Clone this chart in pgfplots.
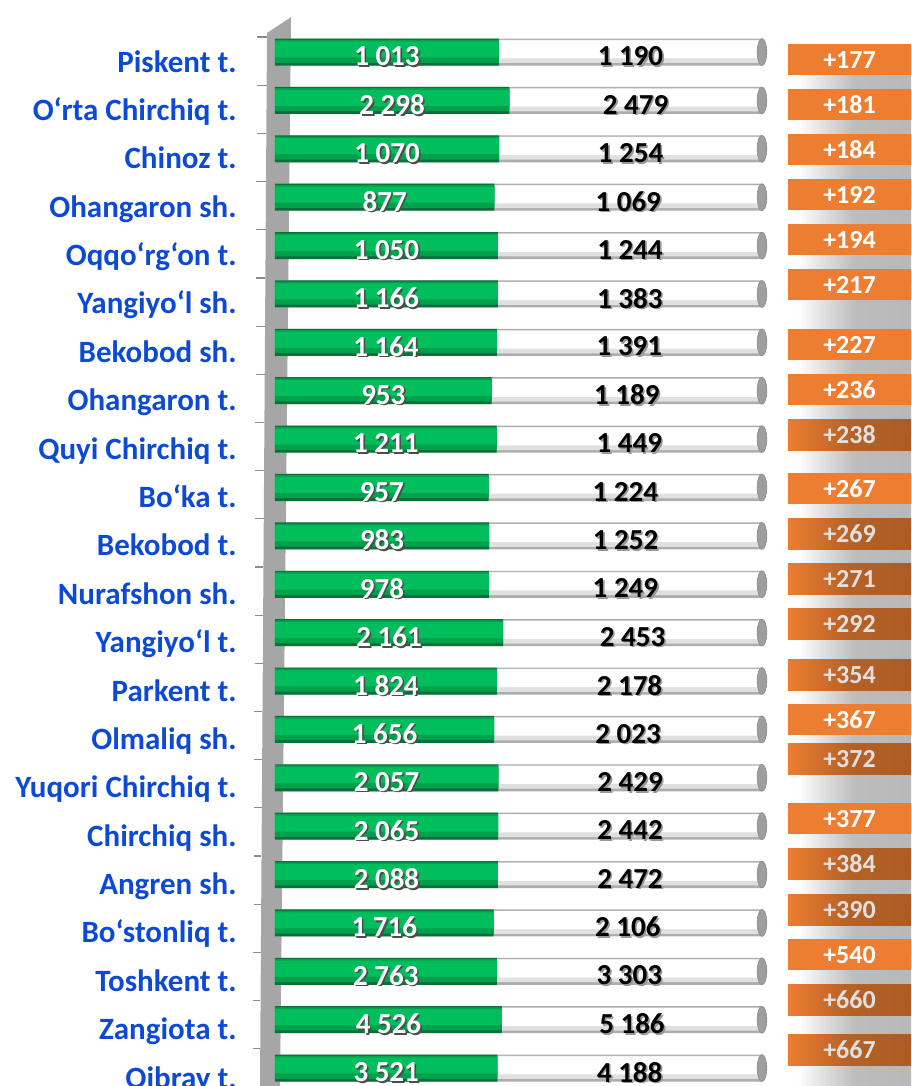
\documentclass[border=0pt]{standalone}
\usepackage{pgfplots}
\usepackage{pgfplotstable}
\pgfplotsset{compat=1.18}
\usepackage{fontspec}
\setmainfont{Carlito}

\definecolor{lblue}{RGB}{12,74,214}
\definecolor{ora}{RGB}{237,125,49}
\definecolor{brn}{RGB}{172,92,36}
\definecolor{gB}{RGB}{10,112,56}
\definecolor{gM2}{RGB}{0,160,76}
\definecolor{gM}{RGB}{0,190,92}

% text with a small drop shadow
\newcommand{\sh}[2]{\makebox[0pt][l]{\kern0.8pt\raisebox{-0.8pt}{\color{#2}#1}}#1}

% g = first value (green), w = second value (white), oy = row of the orange box, dk = darker box
\pgfplotstableread{
row g w oy dk
0 1013 1190 0.155 0
1 2298 2479 1.085 0
2 1070 1254 2.015 0
3 877 1069 2.945 0
4 1050 1244 3.876 0
5 1166 1383 4.806 0
6 1164 1391 6.046 0
7 953 1189 6.976 0
8 1211 1449 7.906 1
9 957 1224 9.022 0
10 983 1252 9.952 1
11 978 1249 10.883 1
12 2161 2453 11.813 1
13 1824 2178 12.867 1
14 1656 2023 13.797 0
15 2057 2429 14.603 1
16 2065 2442 15.843 0
17 2088 2472 16.773 1
18 1716 2106 17.724 1
19 2763 3303 18.654 0
20 4526 5186 19.584 1
21 3521 4188 20.618 1
}\data

\begin{document}
\begin{tikzpicture}
\begin{axis}[
    at={(0,0)}, anchor=south west,
    scale only axis,
    width=318pt, height=543pt,
    xmin=0, xmax=130.6,
    ymin=-1.075, ymax=21.372,
    y dir=reverse,
    clip=false,
    axis line style={draw=none},
    xtick=\empty,
    ytick={0,...,21},
    major tick length=0pt,
    yticklabels={Piskent t., O‘rta Chirchiq t., Chinoz t., Ohangaron sh., Oqqo‘rg‘on t.,
      Yangiyo‘l sh., Bekobod sh., Ohangaron t., Quyi Chirchiq t., Bo‘ka t., Bekobod t.,
      Nurafshon sh., Yangiyo‘l t., Parkent t., Olmaliq sh., Yuqori Chirchiq t.,
      Chirchiq sh., Angren sh., Bo‘stonliq t., Toshkent t., Zangiota t., Qibray t.},
    yticklabel style={font=\bfseries\fontsize{15.5}{18}\selectfont, text=lblue,
      anchor=base east, inner sep=0pt, xshift=-19pt, yshift=-10pt},
    /pgf/number format/.cd, 1000 sep={\ }, assume math mode=true,
]

% axis wall
\fill[black!35] (axis cs:-1.64,-0.393) -- (axis cs:3.29,-0.723) -- (axis cs:1.03,21.372)
  -- (axis cs:-3.08,21.372) -- cycle;
\pgfplotsinvokeforeach{0,...,21}{
  \draw[black!45, line width=0.6pt]
    (axis cs:{-3.7-0.038*#1},{#1-0.31-0.0043*#1}) -- (axis cs:{-1.64-0.07*#1},{#1-0.31-0.0043*#1});
}

% full (white) bar, drawn in layers for a rounded look
\addplot[xbar, bar width=13.5pt, bar shift=0pt, draw=none, fill=black!32]
  table[x expr=100, y=row]{\data};
\addplot[xbar, bar width=11.5pt, bar shift=0.3pt, draw=none, fill=black!12]
  table[x expr=100, y=row]{\data};
\addplot[xbar, bar width=9pt, bar shift=1.4pt, draw=none, fill=white]
  table[x expr=100, y=row]{\data};
\addplot[only marks, mark=*, mark size=6.75pt,
  mark options={xscale=0.36, fill=black!38, draw=black!45, line width=0.3pt}]
  table[x expr=100, y=row]{\data};
% green share
\addplot[xbar, bar width=13.5pt, bar shift=0pt, draw=none, fill=gB]
  table[x expr={100*\thisrow{g}/(\thisrow{g}+\thisrow{w})}, y=row]{\data};
\addplot[xbar, bar width=11.5pt, bar shift=0.4pt, draw=none, fill=gM2]
  table[x expr={100*\thisrow{g}/(\thisrow{g}+\thisrow{w})}, y=row]{\data};
\addplot[xbar, bar width=8pt, bar shift=1.3pt, draw=none, fill=gM]
  table[x expr={100*\thisrow{g}/(\thisrow{g}+\thisrow{w})}, y=row]{\data};

% value labels
\addplot[draw=none, mark=none, point meta=\thisrow{g},
  nodes near coords={\sh{\pgfmathprintnumber{\pgfplotspointmeta}}{black!70}},
  every node near coord/.append style={anchor=center, inner sep=0pt, yshift=-2.5pt,
    text=white, font=\bfseries\fontsize{14.5}{15}\selectfont}]
  table[x expr={50*\thisrow{g}/(\thisrow{g}+\thisrow{w})}, y=row]{\data};
\addplot[draw=none, mark=none, point meta=\thisrow{w},
  nodes near coords={\sh{\pgfmathprintnumber{\pgfplotspointmeta}}{black!40}},
  every node near coord/.append style={anchor=center, inner sep=0pt, yshift=-2.5pt,
    text=black, font=\bfseries\fontsize{14.5}{15}\selectfont}]
  table[x expr={50+50*\thisrow{g}/(\thisrow{g}+\thisrow{w})}, y=row]{\data};

% differences: shadows, then boxes
\addplot[draw=none, mark=none, point meta=\thisrow{w}-\thisrow{g},
  nodes near coords={\phantom{0}},
  every node near coord/.append style={anchor=north, inner sep=0pt, yshift=-7.75pt,
    minimum width=57pt, minimum height=14pt, left color=white, right color=black!28,
    middle color=black!26}]
  table[x expr=118.9, y=oy]{\data};
\addplot[draw=none, mark=none, point meta=\thisrow{w}-\thisrow{g},
  unbounded coords=discard,
  nodes near coords={+\pgfmathprintnumber{\pgfplotspointmeta}},
  every node near coord/.append style={anchor=center, inner sep=0pt, fill=ora,
    minimum width=61.5pt, minimum height=15.5pt, text=white,
    font=\bfseries\fontsize{13}{13}\selectfont}]
  table[x expr=117.97, y expr={\thisrow{oy}+100*\thisrow{dk}}]{\data};
\addplot[draw=none, mark=none, point meta=\thisrow{w}-\thisrow{g},
  nodes near coords={+\pgfmathprintnumber{\pgfplotspointmeta}},
  every node near coord/.append style={anchor=center, inner sep=0pt,
    left color=ora, right color=brn, middle color=brn!85!ora,
    minimum width=61.5pt, minimum height=15.5pt, text=black!12,
    font=\bfseries\fontsize{13}{13}\selectfont}]
  table[x expr=117.97, y expr={\thisrow{oy}+100*(1-\thisrow{dk})}]{\data};

\end{axis}
\pgfresetboundingbox
\path[use as bounding box] (-137.5pt,0pt) rectangle (318pt,543pt);
\end{tikzpicture}
\end{document}
